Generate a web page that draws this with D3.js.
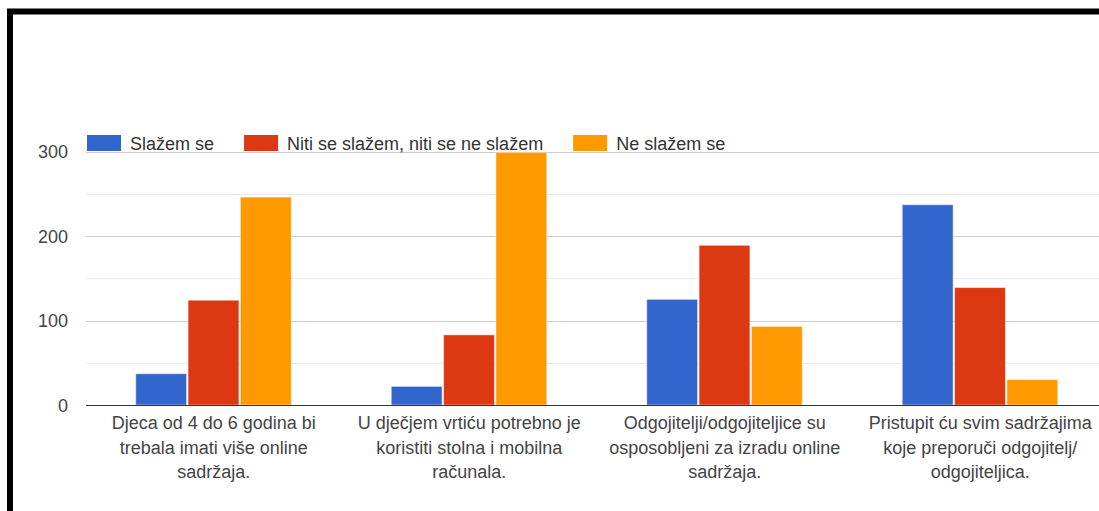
<!DOCTYPE html>
<html>
<head>
<meta charset="utf-8">
<script src="https://cdn.jsdelivr.net/npm/d3@7"></script>
<style>
  html, body { margin: 0; padding: 0; background: #fff; }
  svg { display: block; font-family: "Liberation Sans", Arial, sans-serif; }
</style>
</head>
<body>
<svg id="chart" width="1099" height="511"></svg>
<script>
// Survey statements (pre-wrapped onto lines as shown under the axis)
const categories = [
  ["Djeca od 4 do 6 godina bi", "trebala imati više online", "sadržaja."],
  ["U dječjem vrtiću potrebno je", "koristiti stolna i mobilna", "računala."],
  ["Odgojitelji/odgojiteljice su", "osposobljeni za izradu online", "sadržaja."],
  ["Pristupit ću svim sadržajima", "koje preporuči odgojitelj/", "odgojiteljica."]
];
const seriesNames = ["Slažem se", "Niti se slažem, niti se ne slažem", "Ne slažem se"];
const agree    = [37, 22, 125, 237];
const neutral  = [124, 83, 189, 139];
const disagree = [246, 299, 93, 30];
const majorTicks = [0, 100, 200, 300];
const minorTicks = [50, 150, 250];
const colors = ["#3366cc", "#dc3912", "#ff9900"];

const seriesValues = [agree, neutral, disagree];
const svg = d3.select("#chart");

// Frame around the chart
svg.append("rect")
  .attr("x", 10).attr("y", 11.5)
  .attr("width", 1200).attr("height", 600)
  .attr("fill", "none").attr("stroke", "#000").attr("stroke-width", 6);

const plotLeft = 86, plotRight = 1108;
const y = d3.scaleLinear().domain([0, 300]).range([405, 151.5]);
const x = d3.scaleBand().domain(d3.range(categories.length)).range([plotLeft, plotRight]).padding(0);
const groupWidth = 157;
const xs = d3.scaleBand().domain(d3.range(seriesNames.length)).range([-groupWidth / 2, groupWidth / 2]).padding(0);

// Gridlines
svg.append("g").selectAll("line").data(minorTicks).join("line")
  .attr("x1", plotLeft).attr("x2", 1099)
  .attr("y1", d => Math.round(y(d)) + 0.5).attr("y2", d => Math.round(y(d)) + 0.5)
  .attr("stroke", "#ebebeb").attr("stroke-width", 1);
svg.append("g").selectAll("line").data(majorTicks.filter(d => d > 0)).join("line")
  .attr("x1", plotLeft).attr("x2", 1099)
  .attr("y1", d => Math.round(y(d)) + 0.5).attr("y2", d => Math.round(y(d)) + 0.5)
  .attr("stroke", "#cccccc").attr("stroke-width", 1);

// Y axis labels
const yAxis = d3.axisLeft(y).tickValues(majorTicks).tickSize(0).tickPadding(0);
const yg = svg.append("g").attr("transform", "translate(68,0)").call(yAxis);
yg.select(".domain").remove();
yg.selectAll("text")
  .attr("font-size", 18).attr("fill", "#444").attr("font-family", "Liberation Sans, Arial, sans-serif")
  .attr("dy", "0.35em");

// Bars
const groups = svg.append("g").selectAll("g").data(categories).join("g")
  .attr("transform", (d, i) => `translate(${x(i) + x.bandwidth() / 2},0)`);
groups.each(function (c, i) {
  d3.select(this).selectAll("rect").data(seriesValues.map(v => v[i])).join("rect")
    .attr("x", (d, s) => xs(s) + 0.5)
    .attr("width", xs.bandwidth() - 1.5)
    .attr("y", d => y(d))
    .attr("height", d => y(0) - y(d))
    .attr("fill", (d, s) => colors[s])
    .attr("stroke", "rgba(255,255,255,0.45)")
    .attr("stroke-width", 1);
});

// Baseline
svg.append("line")
  .attr("x1", plotLeft).attr("x2", 1099)
  .attr("y1", y(0) + 0.5).attr("y2", y(0) + 0.5)
  .attr("stroke", "#333").attr("stroke-width", 1.2);

// Category labels
const labels = svg.append("g").selectAll("text").data(categories).join("text")
  .attr("text-anchor", "middle")
  .attr("font-size", 18).attr("fill", "#444")
  .attr("transform", (d, i) => `translate(${x(i) + x.bandwidth() / 2},429)`);
labels.selectAll("tspan").data(d => d).join("tspan")
  .attr("x", 0).attr("dy", (d, j) => j === 0 ? 0 : 24.5)
  .text(d => d);

// Legend
const legend = svg.append("g").attr("transform", "translate(87,135)");
let lx = 0;
seriesNames.forEach((name, s) => {
  const item = legend.append("g").attr("transform", `translate(${lx},0)`);
  item.append("rect").attr("width", 34).attr("height", 16).attr("fill", colors[s]);
  const t = item.append("text").attr("x", 43).attr("y", 14.5)
    .attr("font-size", 18).attr("fill", "#333").text(name);
  lx += 43 + t.node().getComputedTextLength() + 30;
});
</script>
</body>
</html>
